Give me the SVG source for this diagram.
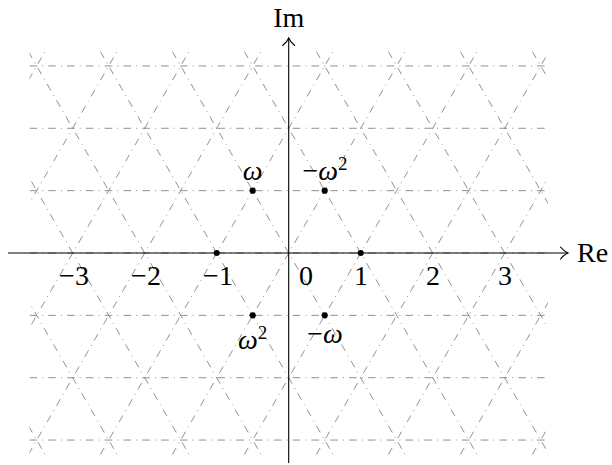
<svg xmlns="http://www.w3.org/2000/svg" width="612" height="465" viewBox="0 0 612 465">
<defs>
<style>
.lat{fill:none;stroke:#858585;stroke-width:0.9;stroke-dasharray:7.6 5.1 1 5.1}
.ax{fill:none;stroke:#000;stroke-width:1.1}
.tx{font-family:"Liberation Serif","DejaVu Serif",serif;font-size:28px;fill:#000}
.it{font-style:italic}
.sup{font-size:19px}
.dot{fill:#000}
</style>
<clipPath id="clipLat"><rect x="29.5" y="51.4" width="518.4" height="403.2"/></clipPath>
<marker id="arr" markerWidth="12" markerHeight="14" refX="9" refY="7" orient="auto" markerUnits="userSpaceOnUse">
<path d="M1.5,1 Q5,5.5 9,7 Q5,8.5 1.5,13" fill="none" stroke="#000" stroke-width="1.1" stroke-linecap="round"/>
</marker>
</defs>
<rect width="612" height="465" fill="#fff"/>
<g id="lattice" clip-path="url(#clipLat)">
<path class="lat" d="M29.5,65.94H547.9M29.5,128.29H547.9M29.5,190.65H547.9M29.5,253H547.9M29.5,315.35H547.9M29.5,377.71H547.9M29.5,440.06H547.9"/>
<path class="lat" d="M-187.7,454.6L45.1,51.4M-115.7,454.6L117.1,51.4M-43.7,454.6L189.1,51.4M28.3,454.6L261.1,51.4M100.3,454.6L333.1,51.4M172.3,454.6L405.1,51.4M244.3,454.6L477.1,51.4M316.3,454.6L549.1,51.4M388.3,454.6L621.1,51.4M460.3,454.6L693.1,51.4M532.3,454.6L765.1,51.4"/>
<path class="lat" d="M-187.7,51.4L45.1,454.6M-115.7,51.4L117.1,454.6M-43.7,51.4L189.1,454.6M28.3,51.4L261.1,454.6M100.3,51.4L333.1,454.6M172.3,51.4L405.1,454.6M244.3,51.4L477.1,454.6M316.3,51.4L549.1,454.6M388.3,51.4L621.1,454.6M460.3,51.4L693.1,454.6M532.3,51.4L765.1,454.6"/>
</g>
<g id="axes">
<line class="ax" x1="8" y1="253" x2="568" y2="253" marker-end="url(#arr)"/>
<line class="ax" x1="288.7" y1="463" x2="288.7" y2="38" marker-end="url(#arr)"/>
<text class="tx" x="577" y="262">Re</text>
<text class="tx" x="288.7" y="27" text-anchor="middle">Im</text>
</g>
<g id="ticks">
<text class="tx" x="74" y="285" text-anchor="middle">−3</text>
<text class="tx" x="146" y="285" text-anchor="middle">−2</text>
<text class="tx" x="218" y="285" text-anchor="middle">−1</text>
<text class="tx" x="306" y="285" text-anchor="middle">0</text>
<text class="tx" x="361" y="285" text-anchor="middle">1</text>
<text class="tx" x="433" y="285" text-anchor="middle">2</text>
<text class="tx" x="505" y="285" text-anchor="middle">3</text>
</g>
<g id="p-minus1"><circle class="dot" cx="216.7" cy="253" r="3.1"/></g>
<g id="p-one"><circle class="dot" cx="360.7" cy="253" r="3.1"/></g>
<g id="p-omega">
<circle class="dot" cx="252.7" cy="190.65" r="3.1"/>
<text class="tx it" x="252.7" y="180" text-anchor="middle">ω</text>
</g>
<g id="p-minus-omega2">
<circle class="dot" cx="324.7" cy="190.65" r="3.1"/>
<text class="tx" x="325" y="180" text-anchor="middle">−<tspan class="it">ω</tspan><tspan class="sup" dy="-10">2</tspan></text>
</g>
<g id="p-omega2">
<circle class="dot" cx="252.7" cy="315.35" r="3.1"/>
<text class="tx" x="252.7" y="349" text-anchor="middle"><tspan class="it">ω</tspan><tspan class="sup" dy="-10">2</tspan></text>
</g>
<g id="p-minus-omega">
<circle class="dot" cx="324.7" cy="315.35" r="3.1"/>
<text class="tx" x="325" y="343" text-anchor="middle">−<tspan class="it">ω</tspan></text>
</g>
</svg>
